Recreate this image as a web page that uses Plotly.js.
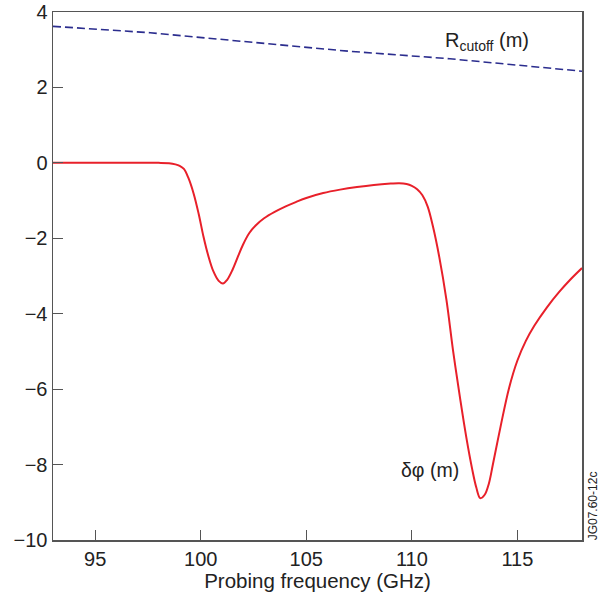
<!DOCTYPE html>
<html>
<head>
<meta charset="utf-8">
<script src="https://cdn.plot.ly/plotly-3.0.1.min.js"></script>
<style>html,body{margin:0;padding:0;background:#fff;}#chart{width:603px;height:596px;}</style>
</head>
<body>
<div id="chart"></div>
<script>
// Phase shift delta-phi (m) vs probing frequency (GHz)
const freqPhi = [93, 95, 97, 98, 98.5, 98.8, 99.0, 99.2, 99.4, 99.66, 99.9, 100.13, 100.35, 100.6, 100.85, 101.05, 101.25, 101.5, 101.75, 102.0, 102.3, 102.6, 103.0, 103.5, 104.0, 104.5, 105.0, 105.8, 106.6, 107.4, 108.2, 109.0, 109.4, 109.75, 110.0, 110.25, 110.5, 110.75, 111.0, 111.3, 111.64, 111.95, 112.3, 112.58, 112.85, 113.05, 113.24, 113.45, 113.65, 113.84, 114.2, 114.6, 115.0, 115.4, 115.8, 116.4, 117.0, 117.5, 118.06];
const deltaPhi = [0, 0, 0, 0, -0.01, -0.04, -0.08, -0.16, -0.38, -0.81, -1.35, -1.96, -2.45, -2.88, -3.13, -3.2, -3.1, -2.84, -2.5, -2.17, -1.86, -1.66, -1.47, -1.3, -1.16, -1.04, -0.93, -0.8, -0.71, -0.64, -0.585, -0.55, -0.54, -0.56, -0.61, -0.7, -0.86, -1.16, -1.69, -2.5, -3.64, -4.97, -6.3, -7.28, -8.1, -8.6, -8.89, -8.8, -8.5, -7.99, -7.0, -5.98, -5.24, -4.72, -4.32, -3.83, -3.41, -3.1, -2.79];

// Cutoff radius R_cutoff (m)
const freqR = [93, 97.6, 102, 107, 111.8, 115, 118.06];
const rCutoff = [3.62, 3.45, 3.22, 2.96, 2.76, 2.6, 2.43];

const xTicks = [95, 100, 105, 110, 115];
const yTicks = [-10, -8, -6, -4, -2, 0, 2, 4];

const FONT = 'Liberation Sans, Arial, sans-serif';

const traces = [
  {x: freqR, y: rCutoff, mode: 'lines', line: {color: '#2b2d8e', width: 1.6, dash: '8px,4px'}, hoverinfo: 'skip'},
  {x: freqPhi, y: deltaPhi, mode: 'lines', line: {color: '#e8202a', width: 2, shape: 'spline', smoothing: 1}, hoverinfo: 'skip'}
];

const layout = {
  width: 603, height: 596,
  margin: {l: 52.5, r: 21, t: 12, b: 56, pad: 0},
  paper_bgcolor: '#fff', plot_bgcolor: '#fff',
  showlegend: false,
  font: {family: FONT, size: 20, color: '#222'},
  xaxis: {
    range: [93, 118.06], tickmode: 'array', tickvals: xTicks, ticktext: xTicks.map(String),
    ticks: 'inside', ticklen: 10, tickwidth: 1, tickcolor: '#555',
    showline: true, linecolor: '#555', linewidth: 1.5, mirror: true,
    showgrid: false, zeroline: false,
    tickfont: {family: FONT, size: 20, color: '#222'},
    title: {text: 'Probing frequency (GHz)', font: {family: FONT, size: 20.5, color: '#222'}, standoff: 4}
  },
  yaxis: {
    range: [-10, 4], tickmode: 'array', tickvals: yTicks,
    ticks: 'inside', ticklen: 10, tickwidth: 1, tickcolor: '#555',
    showline: true, linecolor: '#555', linewidth: 1.5, mirror: true,
    showgrid: false, zeroline: false,
    tickfont: {family: FONT, size: 20, color: '#222'}
  },
  annotations: [
    {x: 113.55, y: 3.22, xref: 'x', yref: 'y', text: 'R<sub>cutoff</sub> (m)', showarrow: false, font: {family: FONT, size: 20, color: '#222'}},
    {x: 110.85, y: -8.15, xref: 'x', yref: 'y', text: 'δφ (m)', showarrow: false, font: {family: FONT, size: 19.5, color: '#222'}},
    {x: 1.021, y: 0.064, xref: 'paper', yref: 'paper', xanchor: 'center', yanchor: 'middle', text: 'JG07.60-12c', textangle: -90, showarrow: false, font: {family: FONT, size: 12, color: '#222'}}
  ]
};

Plotly.newPlot('chart', traces, layout, {staticPlot: true, displayModeBar: false});
</script>
</body>
</html>
